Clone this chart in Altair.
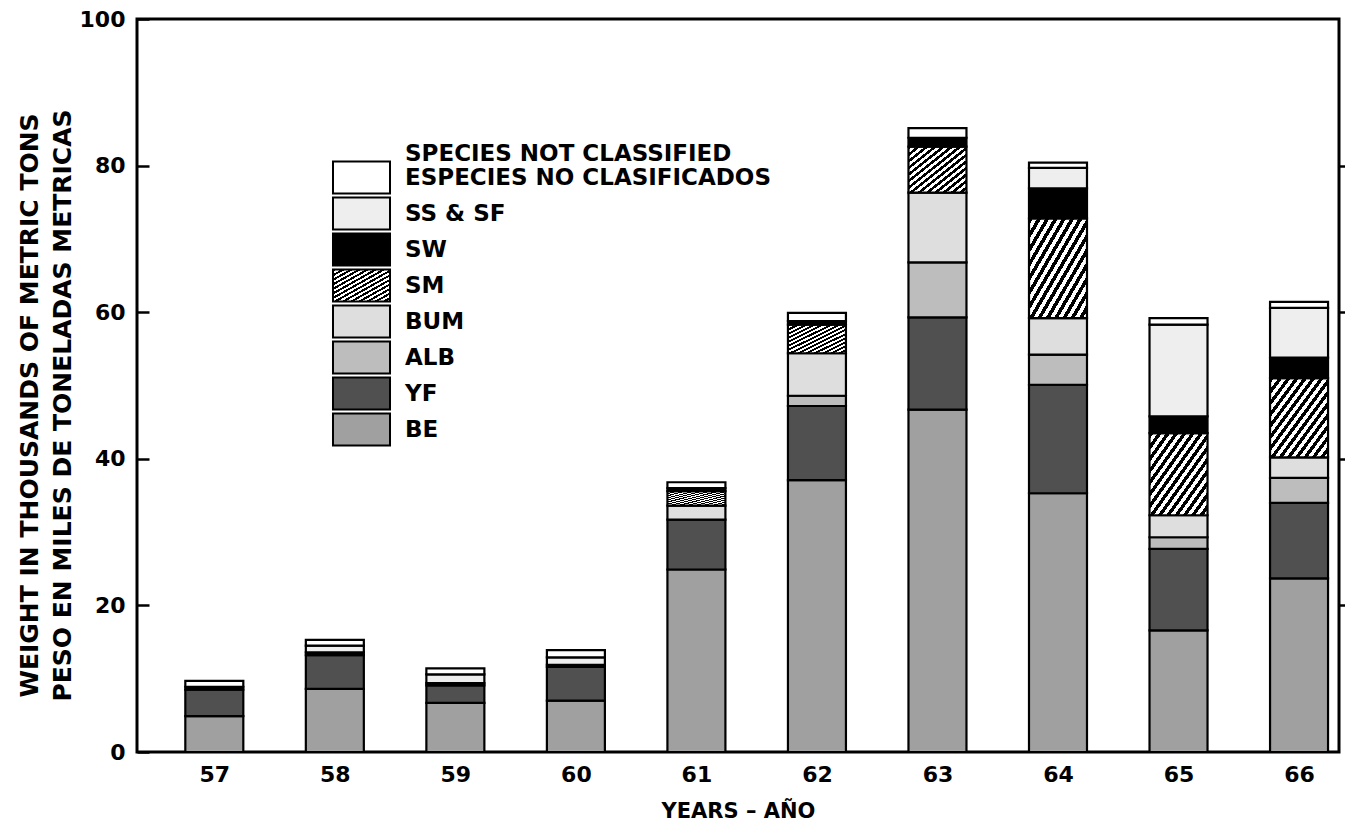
import altair as alt
import pandas as pd

# ---- data (thousands of metric tons) ----
years = [57, 58, 59, 60, 61, 62, 63, 64, 65, 66]
be   = [4.9, 8.6, 6.7, 7.0, 24.9, 37.1, 46.7, 35.3, 16.6, 23.7]
yf   = [3.6, 4.6, 2.4, 4.6, 6.8, 10.1, 12.6, 14.8, 11.1, 10.3]
alb  = [0.0, 0.0, 0.0, 0.0, 0.0, 1.4, 7.5, 4.1, 1.6, 3.4]
bum  = [0.0, 0.0, 0.0, 0.0, 1.9, 5.8, 9.5, 5.0, 3.0, 2.8]
sm   = [0.0, 0.0, 0.0, 0.0, 2.0, 3.9, 6.3, 13.6, 11.2, 10.8]
sw   = [0.4, 0.4, 0.3, 0.3, 0.4, 0.5, 1.2, 4.1, 2.3, 2.8]
sssf = [0.0, 0.9, 1.2, 1.0, 0.0, 0.0, 0.0, 2.8, 12.5, 6.8]
nc   = [0.8, 0.8, 0.8, 1.0, 0.8, 1.1, 1.3, 0.7, 0.9, 0.8]

species_bottom_up = ["BE", "YF", "ALB", "BUM", "SM", "SW", "SS & SF", "NC"]
series = {"BE": be, "YF": yf, "ALB": alb, "BUM": bum, "SM": sm,
          "SW": sw, "SS & SF": sssf, "NC": nc}

rows = []
for rank, sp in enumerate(species_bottom_up):
    for yr, v in zip(years, series[sp]):
        rows.append({"year": yr, "species": sp, "rank": rank, "value": v})
df = pd.DataFrame(rows)


def stripes(n=14):
    stops = []
    for k in range(n):
        a, b, c = k / n, (k + 0.5) / n, (k + 1) / n
        stops += [f"{{offset:{a:.4f},color:'#000'}}", f"{{offset:{b:.4f},color:'#000'}}",
                  f"{{offset:{b:.4f},color:'#fff'}}", f"{{offset:{c:.4f},color:'#fff'}}"]
    return "{gradient:'linear',x1:0,y1:0,x2:1,y2:1,stops:[" + ",".join(stops) + "]}"


legend_order = list(reversed(species_bottom_up))
fills = ["#ffffff", "#eeeeee", "#000000", {"expr": stripes()},
         "#dedede", "#bdbdbd", "#505050", "#a0a0a0"]

FONT = "DejaVu Sans"

x_scale = alt.Scale(domain=[56.4, 66.29], nice=False, zero=False)
x_axis = alt.Axis(values=years, format="d", ticks=False, domain=False, grid=False,
                  labelFontSize=22, labelPadding=12, labelFontWeight="bold",
                  title="YEARS – AÑO", titleFontSize=21, titlePadding=15,
                  titleFontWeight="bold")

bars = alt.Chart(df).transform_filter("datum.value > 0").mark_bar(
    size=58, stroke="black", strokeWidth=2.2
).encode(
    x=alt.X("year:Q", scale=x_scale, axis=x_axis),
    y=alt.Y(
        "value:Q", stack="zero",
        scale=alt.Scale(domain=[0, 100], nice=False),
        axis=alt.Axis(values=[0, 20, 40, 60, 80, 100], orient="left", offset=-12,
                      tickSize=12, tickWidth=2.5, tickColor="black", domain=False,
                      grid=False, labelPadding=12, labelFontSize=22,
                      labelFontWeight="bold",
                      title=["WEIGHT IN THOUSANDS OF METRIC TONS",
                             "PESO EN MILES DE TONELADAS METRICAS"],
                      titleAngle=270, titleX=-120, titleY=386, titleAlign="center",
                      titleBaseline="middle", titleLineHeight=33, titleFontSize=25,
                      titleFontWeight="bold"),
    ),
    fill=alt.Fill(
        "species:N",
        scale=alt.Scale(domain=legend_order, range=fills),
        legend=alt.Legend(
            title="SPECIES NOT CLASSIFIED", orient="none", legendX=268, legendY=124,
            direction="vertical", symbolType="M-1.966,-1.1H1.966V1.1H-1.966Z",
            symbolSize=841, symbolStrokeColor="black", symbolStrokeWidth=2,
            symbolOpacity=1, symbolOffset={"expr": "-59"}, labelOffset=28,
            labelFontSize=23, labelFontWeight="bold",
            labelLimit=600, rowPadding={"expr": "-11"}, padding=0,
            labelExpr="datum.label == 'NC' ? 'ESPECIES NO CLASIFICADOS' : datum.label",
            titleFontSize=23, titleFontWeight="bold", titlePadding={"expr": "-4"},
            titleLimit=600, titleAnchor="start",
        ),
    ),
    order=alt.Order("rank:Q", sort="ascending"),
)

right_axis = alt.Chart(df).mark_bar(size=58, opacity=0).encode(
    x=alt.X("year:Q", scale=x_scale, axis=x_axis),
    y=alt.Y("value:Q", stack="zero", scale=alt.Scale(domain=[0, 100], nice=False),
            axis=alt.Axis(orient="right", values=[20, 40, 60, 80], tickSize=11,
                          tickWidth=2.5, tickColor="black", labels=False,
                          domain=False, grid=False, title=None)),
)

chart = alt.layer(bars, right_axis).resolve_scale(y="independent").properties(
    width=1202, height=733, autosize="none",
    padding={"left": 129, "top": 11, "right": 6, "bottom": 76},
).configure(font=FONT).configure_view(stroke="black", strokeWidth=3).configure_axis(
    labelColor="black", titleColor="black", labelFont=FONT, titleFont=FONT
).configure_legend(labelColor="black", titleColor="black", labelFont=FONT, titleFont=FONT)

chart.save("out.html", embed_options={"renderer": "svg", "actions": False})
